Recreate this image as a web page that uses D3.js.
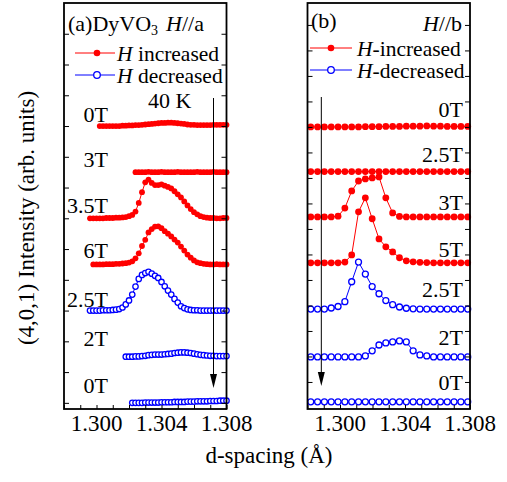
<!DOCTYPE html>
<html><head><meta charset="utf-8">
<script src="https://cdn.jsdelivr.net/npm/d3@7"></script>
<style>
html,body{margin:0;padding:0;background:#fff;}
svg text{font-family:"Liberation Serif","Times New Roman",serif;fill:#000;}
</style></head><body>
<svg id="chart" width="507" height="482"></svg>
<script>
// ---- d-spacing sampling grids (Å) ----
const dGridA = d3.range(43).map(i => +(1.2996 + 0.0002 * i).toFixed(4));
const dGridB = d3.range(24).map(i => +(1.2982 + 0.00042 * i).toFixed(5));

// ---- panel (a): H // a, stacked scans (null = not measured) ----
const labelsA  = ["0T", "3T", "3.5T", "6T", "2.5T", "2T", "0T"];
const sweepA   = ["up", "up", "up", "up", "down", "down", "down"];
const offsetsA = [9.0, 7.5, 6.0, 4.5, 3.0, 1.5, 0.0];

const a0Tup = [null,null,null,0.00,0.00,0.00,0.00,0.00,0.00,0.00,0.01,0.01,0.02,0.02,0.03,0.03,0.04,0.05,0.06,0.07,0.08,0.09,0.10,0.10,0.11,0.11,0.10,0.09,0.08,0.07,0.05,0.04,0.04,0.03,0.03,0.03,0.03,0.03,0.04,0.04,0.04,0.04,0.04];
const a3Tup = [null,null,null,null,null,null,null,null,null,null,null,null,null,null,0.00,0.00,0.00,0.00,0.01,0.00,0.00,0.00,0.01,0.00,0.00,0.00,0.00,0.01,0.00,0.00,0.00,0.00,0.00,0.01,0.00,0.00,0.00,0.00,0.01,0.00,0.00,0.00,0.00];
const a35Tup = [0.00,0.00,0.00,0.00,0.00,0.01,0.01,0.01,0.02,0.02,0.03,0.04,0.07,0.11,0.22,0.50,0.85,1.17,1.26,1.15,1.08,1.08,1.10,1.06,1.02,0.97,0.88,0.78,0.68,0.55,0.42,0.30,0.20,0.13,0.07,0.04,0.02,0.01,0.01,0.00,0.00,0.01,0.01];
const a6Tup = [null,0.00,0.00,0.00,0.00,0.01,0.01,0.01,0.02,0.02,0.03,0.04,0.06,0.10,0.20,0.36,0.60,0.80,1.04,1.15,1.23,1.24,1.18,1.08,1.00,0.91,0.81,0.71,0.58,0.45,0.32,0.22,0.13,0.07,0.04,0.02,0.01,0.00,0.00,0.01,0.00,0.00,0.00];
const a25Tdn = [0.00,0.00,0.00,0.00,0.01,0.01,0.01,0.02,0.03,0.05,0.10,0.20,0.33,0.52,0.78,1.03,1.16,1.22,1.26,1.20,1.13,1.06,0.93,0.79,0.65,0.52,0.38,0.26,0.14,0.08,0.04,0.02,0.01,0.01,0.00,0.00,0.00,0.00,0.00,0.00,0.00,0.00,0.00];
const a2Tdn = [null,null,null,null,null,null,null,null,null,null,null,0.00,0.00,0.00,0.01,0.01,0.02,0.03,0.05,0.06,0.07,0.07,0.07,0.08,0.09,0.10,0.12,0.13,0.14,0.14,0.13,0.12,0.10,0.08,0.06,0.05,0.04,0.03,0.03,0.02,0.02,0.02,0.02];
const a0Tdn = [null,null,null,null,null,null,null,null,null,null,null,null,null,0.00,0.00,0.00,0.00,0.01,0.01,0.01,0.01,0.01,0.02,0.02,0.02,0.02,0.03,0.03,0.03,0.03,0.04,0.04,0.04,0.05,0.05,0.05,0.05,0.06,0.06,0.06,0.07,0.07,0.07];
const scansA = [a0Tup, a3Tup, a35Tup, a6Tup, a25Tdn, a2Tdn, a0Tdn];

// ---- panel (b): H // b ----
const labelsB  = ["0T", "2.5T", "3T", "5T", "2.5T", "2T", "0T"];
const sweepB   = ["up", "up", "up", "up", "down", "down", "down"];
const offsetsB = [10.0, 8.25, 6.47, 4.67, 2.86, 0.98, -0.78];

const b0Tup  = [0.00,0.00,0.00,0.00,0.00,0.00,0.00,0.00,0.01,0.01,0.01,0.02,0.02,0.02,0.03,0.03,0.03,0.04,0.03,0.03,0.02,0.02,0.02,0.02];
const b25Tup = [0.00,0.00,0.00,0.00,0.00,0.00,0.00,0.00,0.00,0.00,0.00,0.00,0.00,0.00,0.00,0.00,0.00,0.00,0.00,0.00,0.00,0.00,0.00,0.00];
const b3Tup  = [0.00,0.00,0.00,0.00,0.03,0.35,1.02,1.41,1.49,1.53,1.57,0.75,0.16,0.02,0.00,0.00,0.00,0.00,0.00,0.00,0.00,0.00,0.00,0.00];
const b5Tup  = [0.00,0.00,0.00,0.00,0.00,0.03,0.31,2.00,2.55,1.73,0.94,0.63,0.43,0.20,0.08,0.04,0.02,0.01,0.00,0.00,0.00,0.00,0.00,0.00];
const b25Tdn = [0.00,0.00,0.00,0.04,0.10,0.29,1.07,1.84,1.37,0.88,0.60,0.33,0.17,0.08,0.03,0.01,0.00,0.00,0.00,0.00,0.00,0.00,0.00,0.00];
const b2Tdn  = [0.00,0.00,0.00,0.00,0.00,0.00,0.00,0.00,0.04,0.24,0.47,0.55,0.59,0.63,0.59,0.24,0.08,0.04,0.00,0.00,0.00,0.00,0.00,0.00];
const b0Tdn  = [0.00,0.00,0.00,0.00,0.00,0.00,0.00,0.00,0.00,0.00,0.00,0.00,0.00,0.00,0.00,0.00,0.00,0.00,0.00,0.00,0.00,0.00,0.00,0.00];
const scansB = [b0Tup, b25Tup, b3Tup, b5Tup, b25Tdn, b2Tdn, b0Tdn];

// ---- axes ----
const xDomain = [1.298, 1.308];
const xTickValues = d3.range(11).map(i => +(1.298 + 0.001 * i).toFixed(3));
const xTickLabels = ["1.300", "1.304", "1.308"];
const legendText = { a: ["increased", "decreased"], b: ["-increased", "-decreased"] };

const RED = "#ff0000", BLUE = "#0000ff";
const svg = d3.select("#chart");

function drawPanel(p) {
  const x = d3.scaleLinear().domain(xDomain).range(p.xRange);
  const y = d3.scaleLinear().domain(p.yDomain).range([409, 3]);
  const g = svg.append("g");

  // scans
  p.scans.forEach((vals, k) => {
    const col = p.sweep[k] === "up" ? RED : BLUE;
    const pts = vals.map((v, i) => ({ d: p.grid[i], v })).filter(o => o.v !== null);
    const line = d3.line().x(o => x(o.d)).y(o => y(o.v + p.offsets[k]));
    g.append("path").attr("d", line(pts)).attr("fill", "none")
      .attr("stroke", col).attr("stroke-width", 1);
    g.selectAll(null).data(pts).enter().append("circle")
      .attr("cx", o => x(o.d)).attr("cy", o => y(o.v + p.offsets[k]))
      .attr("r", p.sweep[k] === "up" ? p.rDot : p.rOpen)
      .attr("fill", p.sweep[k] === "up" ? RED : "#fff")
      .attr("stroke", col).attr("stroke-width", p.sweep[k] === "up" ? 0 : 1.3);
  });

  // field labels
  p.labels.forEach((t, k) => {
    g.append("text").attr("x", p.labelX).attr("y", p.labelY[k])
      .attr("text-anchor", "end").attr("font-size", 22).text(t);
  });

  // frame
  const [x0, x1] = p.xRange;
  g.append("rect").attr("x", x0).attr("y", 3).attr("width", x1 - x0).attr("height", 406)
    .attr("fill", "none").attr("stroke", "#000").attr("stroke-width", 1.8);

  // bottom ticks (inward) and labels
  const bottom = d3.axisBottom(x).tickValues(xTickValues).tickSize(-4).tickFormat("");
  g.append("g").attr("transform", "translate(0,409)").call(bottom)
    .call(s => s.select(".domain").remove())
    .selectAll("line").attr("stroke-width", 1);
  xTickLabels.forEach(t => {
    g.append("text").attr("x", x(+t)).attr("y", 431).attr("text-anchor", "middle")
      .attr("font-size", 23).text(t);
  });

  // y ticks, inward on both sides
  const yt = d3.range(p.yTicks[0], p.yTicks[1] + 1);
  g.append("g").attr("transform", `translate(${x0},0)`)
    .call(d3.axisLeft(y).tickValues(yt).tickSize(-5).tickFormat(""))
    .call(s => s.select(".domain").remove());
  g.append("g").attr("transform", `translate(${x1},0)`)
    .call(d3.axisRight(y).tickValues(yt).tickSize(-5).tickFormat(""))
    .call(s => s.select(".domain").remove());

  // field-sweep arrow
  const ax = x(p.arrowD);
  g.append("line").attr("x1", ax).attr("x2", ax).attr("y1", p.arrowY[0]).attr("y2", p.arrowY[1] - 12)
    .attr("stroke", "#000").attr("stroke-width", 1);
  g.append("path").attr("d", `M${ax - 3.5},${p.arrowY[1] - 14} L${ax + 3.5},${p.arrowY[1] - 14} L${ax},${p.arrowY[1]} Z`)
    .attr("fill", "#000");

  // legend
  [RED, BLUE].forEach((col, k) => {
    const ly = p.legY[k];
    g.append("line").attr("x1", p.legX[0]).attr("x2", p.legX[2]).attr("y1", ly).attr("y2", ly)
      .attr("stroke", col).attr("stroke-width", 1);
    g.append("circle").attr("cx", p.legX[1]).attr("cy", ly).attr("r", 3.3)
      .attr("fill", k === 0 ? RED : "#fff").attr("stroke", col).attr("stroke-width", k === 0 ? 0 : 1.3);
    const t = g.append("text").attr("x", p.legX[3]).attr("y", ly + 8).attr("font-size", 21.5);
    t.append("tspan").attr("font-style", "italic").text("H");
    t.append("tspan").text((p.key === "a" ? " " : "") + legendText[p.key][k]);
  });
  return { g, x, y };
}

const A = drawPanel({
  key: "a", grid: dGridA, scans: scansA, sweep: sweepA, offsets: offsetsA, labels: labelsA,
  xRange: [64, 226.5], yDomain: [-0.2, 13], yTicks: [0, 12],
  rDot: 2.9, rOpen: 2.7, labelX: 108, labelY: [122, 167, 213, 258, 307, 346, 393],
  arrowD: 1.3072, arrowY: [98, 388], legY: [53, 75], legX: [75, 97, 115, 117]
});
const tA = A.g.append("text").attr("x", 68).attr("y", 31).attr("font-size", 22);
tA.append("tspan").text("(a)DyVO");
tA.append("tspan").attr("font-size", 14).attr("dy", 4).text("3");
tA.append("tspan").attr("dy", -4).attr("dx", 8).attr("font-style", "italic").text("H");
tA.append("tspan").text("//a");
A.g.append("text").attr("x", 148).attr("y", 108).attr("font-size", 22).text("40 K");

const B = drawPanel({
  key: "b", grid: dGridB, scans: scansB, sweep: sweepB, offsets: offsetsB, labels: labelsB,
  xRange: [307.5, 470], yDomain: [-1.06, 14.86], yTicks: [0, 14],
  rDot: 3.4, rOpen: 3.0, labelX: 463, labelY: [117, 162, 210, 257, 297, 345, 390],
  arrowD: 1.29885, arrowY: [97, 386], legY: [48, 70], legX: [310, 331, 352, 357]
});
B.g.append("text").attr("x", 311).attr("y", 28).attr("font-size", 22).text("(b)");
const tB = B.g.append("text").attr("x", 462).attr("y", 31).attr("font-size", 22).attr("text-anchor", "end");
tB.append("tspan").attr("font-style", "italic").text("H");
tB.append("tspan").text("//b");

// shared axis titles
svg.append("text").attr("transform", "translate(34,218) rotate(-90)")
  .attr("text-anchor", "middle").attr("font-size", 23).text("(4,0,1) Intensity (arb. units)");
svg.append("text").attr("x", 269).attr("y", 463).attr("text-anchor", "middle")
  .attr("font-size", 23).text("d-spacing (Å)");
</script>
</body></html>
